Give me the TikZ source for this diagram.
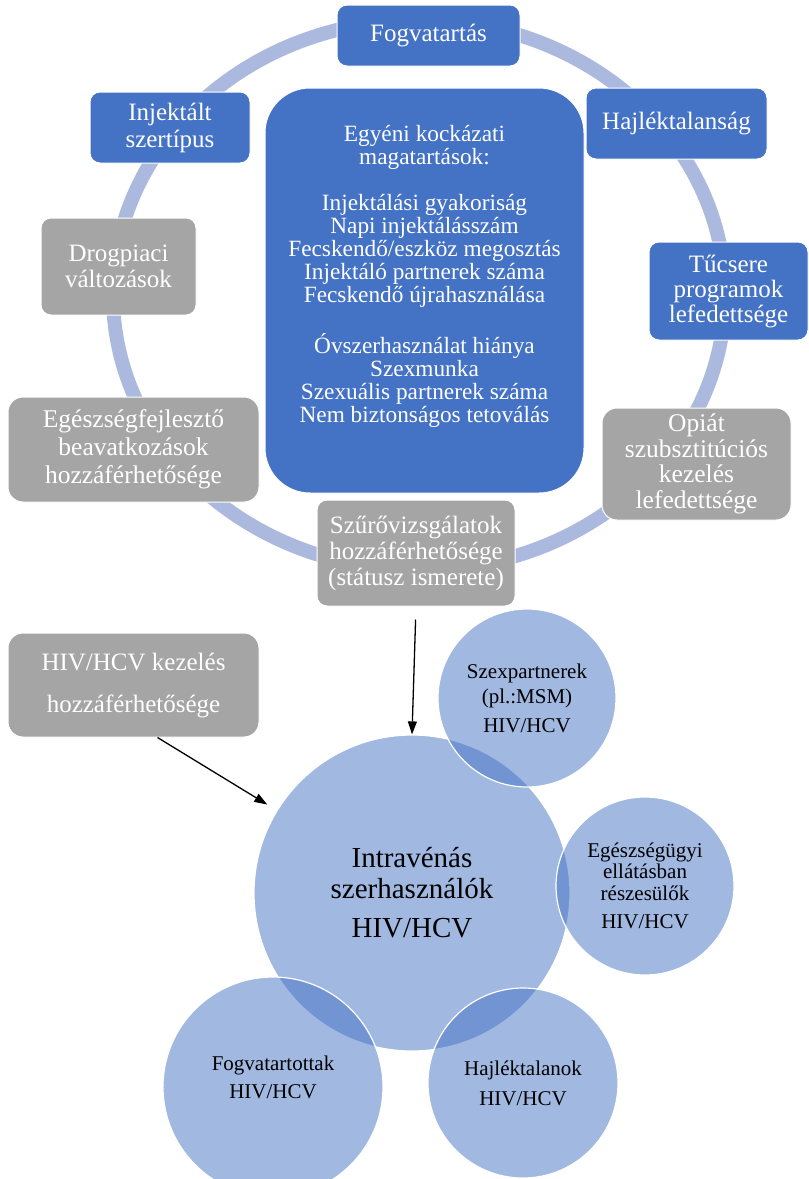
\documentclass[tikz,border=0pt]{standalone}
\usepackage{fontspec}
\setmainfont{Liberation Serif}
\usetikzlibrary{arrows.meta,calc}
\definecolor{cblue}{RGB}{68,114,196}
\definecolor{cgray}{RGB}{165,165,165}
\definecolor{cring}{RGB}{171,185,222}
\tikzset{
  bx/.style={rectangle, rounded corners=10pt, draw=white, line width=1pt, text=white,
    align=center, inner sep=0pt, font=\fontsize{25}{27}\selectfont},
  bluebox/.style={bx, fill=cblue},
  graybox/.style={bx, fill=cgray},
  ringline/.style={draw=cring, line width=14pt},
  bub/.style={circle, fill=cblue, fill opacity=0.5, text opacity=1, draw=white, draw opacity=1,
    line width=1.2pt, text=black, align=center, inner sep=0pt},
  arr/.style={-{Triangle[length=13pt,width=9pt]}, line width=1.3pt, black}
}
\begin{document}
\begin{tikzpicture}[x=1pt,y=-1pt]
\fill[white] (0,0) rectangle (809,1179);
\useasboundingbox (0,0) rectangle (809,1179);
% ring
\draw[ringline] (419,295) ellipse [x radius=306pt, y radius=275pt];
% boxes
\node[bluebox, minimum width=183pt, minimum height=61pt] (fog) at (428.5,35.5) {Fogvatartás};
\node[bluebox, minimum width=160pt, minimum height=71pt, font=\fontsize{25}{27}\selectfont] (inj) at (170,127.5) {Injektált\\szertípus};
\node[bluebox, minimum width=181pt, minimum height=71pt] (haj) at (676.5,123.5) {Hajléktalanság};
\node[bluebox, rounded corners=45pt, minimum width=319pt, minimum height=405pt] (risk) at (424.5,290.5) {};
\node[align=center, text=white, inner sep=0pt, anchor=north, font=\fontsize{23.3}{23}\selectfont] (risklbl) at ($(risk.north)+(0,38)$) {Egyéni kockázati\\
magatartások:\\[23pt]
Injektálási gyakoriság\\
Napi injektálásszám\\
Fecskendő/eszköz megosztás\\
Injektáló partnerek száma\\
Fecskendő újrahasználása\\[25pt]
Óvszerhasználat hiánya\\
Szexmunka\\
Szexuális partnerek száma\\
Nem biztonságos tetoválás};
\node[graybox, minimum width=155pt, minimum height=97pt, font=\fontsize{25}{26}\selectfont] (drog) at (118.5,266.5) {Drogpiaci\\változások};
\node[bluebox, minimum width=159pt, minimum height=98pt, font=\fontsize{25}{25}\selectfont] (tu) at (728.5,291) {Tűcsere\\programok\\lefedettsége};
\node[graybox, rounded corners=15pt, minimum width=251pt, minimum height=105pt, font=\fontsize{25.5}{28}\selectfont] (egf) at (133.5,449.5) {Egészségfejlesztő\\beavatkozások\\hozzáférhetősége};
\node[graybox, rounded corners=15pt, minimum width=189pt, minimum height=112pt, font=\fontsize{25.5}{25.5}\selectfont] (opi) at (696.5,464) {Opiát\\szubsztitúciós\\kezelés\\lefedettsége};
\node[graybox, minimum width=198pt, minimum height=106pt, font=\fontsize{25}{26}\selectfont] (szu) at (416,553) {Szűrővizsgálatok\\hozzáférhetősége\\(státusz ismerete)};
\node[graybox, rounded corners=15pt, minimum width=251pt, minimum height=104pt, font=\fontsize{25}{27}\selectfont] (kez) at (133.5,685) {HIV/HCV kezelés\\[15pt]hozzáférhetősége};
% circles
\node[bub, minimum size=316pt, font=\fontsize{29}{31}\selectfont] (ivd) at (412,893) {Intravénás\\szerhasználók\\[8pt]HIV/HCV};
\node[bub, minimum size=178pt, font=\fontsize{21}{25.5}\selectfont] (sex) at (527,698) {Szexpartnerek\\(pl.:MSM)\\[3pt]HIV/HCV};
\node[bub, minimum size=178pt, font=\fontsize{21}{21.5}\selectfont] (ell) at (645,886) {Egészségügyi\\ellátásban\\részesülők\\[7pt]HIV/HCV};
\node[bub, minimum size=220pt, font=\fontsize{21}{28}\selectfont] (fogt) at (273,1087) {Fogvatartottak\\HIV/HCV\\[-8pt]\mbox{}};
\node[bub, minimum size=190pt, font=\fontsize{21}{30}\selectfont] (hajt) at (523,1083) {Hajléktalanok\\HIV/HCV};
% arrows
\draw[arr, shorten <=13pt] (szu.south) -- (ivd.north);
\draw[arr, shorten >=11pt] ([xshift=24pt]kez.south) -- (ivd);
\end{tikzpicture}
\end{document}
